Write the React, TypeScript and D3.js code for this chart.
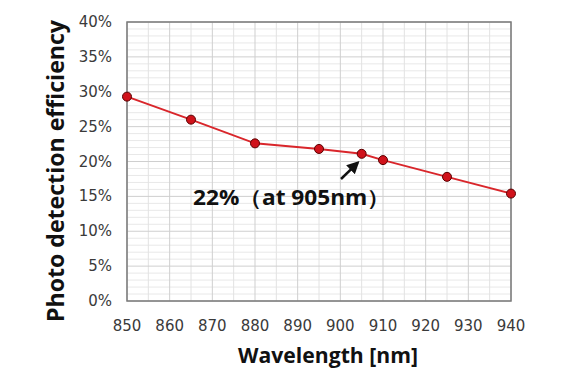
import React from "react";
import * as d3 from "d3";

const wavelengths = [850, 865, 880, 895, 905, 910, 925, 940];
const efficiency = [29.3, 26.0, 22.6, 21.8, 21.1, 20.2, 17.8, 15.4];
const xTicks = [850, 860, 870, 880, 890, 900, 910, 920, 930, 940];
const yTicks = [0, 5, 10, 15, 20, 25, 30, 35, 40];
const annotationText = "22%（at 905nm）";

export default function App() {
  const W = 566, H = 377;
  const m = { left: 127, right: 511, top: 22, bottom: 301 };
  const x = d3.scaleLinear().domain([850, 940]).range([m.left, m.right]);
  const y = d3.scaleLinear().domain([0, 40]).range([m.bottom, m.top]);
  const line = d3.line<number>().x((_, i) => x(wavelengths[i])).y((d) => y(d));
  const minorX = d3.range(850, 941, 5).filter((v) => v % 10 !== 0);
  const minorY = d3.range(0, 41, 1).filter((v) => v % 5 !== 0);
  const font = "'DejaVu Sans', Verdana, sans-serif";
  const bold = "'Open Sans', 'Noto Sans', Arial, sans-serif";
  return (
    <svg width={W} height={H} style={{ position: "absolute", left: 0, top: 0, background: "#fff" }}>
      <rect width={W} height={H} fill="#fff" />
      {minorY.map((v) => (
        <line key={"my" + v} x1={m.left} x2={m.right} y1={y(v)} y2={y(v)} stroke="#e8e8e8" strokeWidth={1} />
      ))}
      {minorX.map((v) => (
        <line key={"mx" + v} x1={x(v)} x2={x(v)} y1={m.top} y2={m.bottom} stroke="#e2e2e2" strokeWidth={1} />
      ))}
      {yTicks.map((v) => (
        <line key={"gy" + v} x1={m.left} x2={m.right} y1={y(v)} y2={y(v)} stroke="#cfcfcf" strokeWidth={1} />
      ))}
      {xTicks.map((v) => (
        <line key={"gx" + v} x1={x(v)} x2={x(v)} y1={m.top} y2={m.bottom} stroke="#cfcfcf" strokeWidth={1} />
      ))}
      <rect x={m.left} y={m.top} width={m.right - m.left} height={m.bottom - m.top} fill="none" stroke="#7a7a7a" strokeWidth={1.5} />
      {yTicks.map((v) => (
        <text key={"ty" + v} x={112} y={y(v) + 5} textAnchor="end" fontFamily={font} fontSize={15} fill="#3a3a3a">
          {v + "%"}
        </text>
      ))}
      {xTicks.map((v) => (
        <text key={"tx" + v} x={x(v)} y={331} textAnchor="middle" fontFamily={font} fontSize={15} fill="#3a3a3a">
          {v}
        </text>
      ))}
      <path d={line(efficiency) || ""} fill="none" stroke="#d9262b" strokeWidth={2} />
      {efficiency.map((v, i) => (
        <circle key={"p" + i} cx={x(wavelengths[i])} cy={y(v)} r={4.5} fill="#d0121b" stroke="#5a0000" strokeWidth={1} />
      ))}
      <defs>
        <marker id="ah" viewBox="0 0 10 10" refX="8" refY="5" markerWidth="5" markerHeight="5" orient="auto">
          <path d="M0,0 L10,5 L0,10 z" fill="#111" />
        </marker>
      </defs>
      <line x1={341} y1={179} x2={x(905) - 4} y2={y(21.1) + 9} stroke="#111" strokeWidth={2.5} markerEnd="url(#ah)" />
      <text x={193} y={205} fontFamily={bold} fontSize={21} fontWeight="bold" fill="#111" textLength={197} lengthAdjust="spacingAndGlyphs">
        {annotationText}
      </text>
      <text x={328} y={363} textAnchor="middle" fontFamily={bold} fontSize={21} fontWeight="bold" fill="#111" textLength={180} lengthAdjust="spacingAndGlyphs">
        Wavelength [nm]
      </text>
      <text transform={`translate(64,171) rotate(-90)`} textAnchor="middle" fontFamily={bold} fontSize={23} fontWeight="bold" fill="#111" textLength={302} lengthAdjust="spacingAndGlyphs">
        Photo detection efficiency
      </text>
    </svg>
  );
}
